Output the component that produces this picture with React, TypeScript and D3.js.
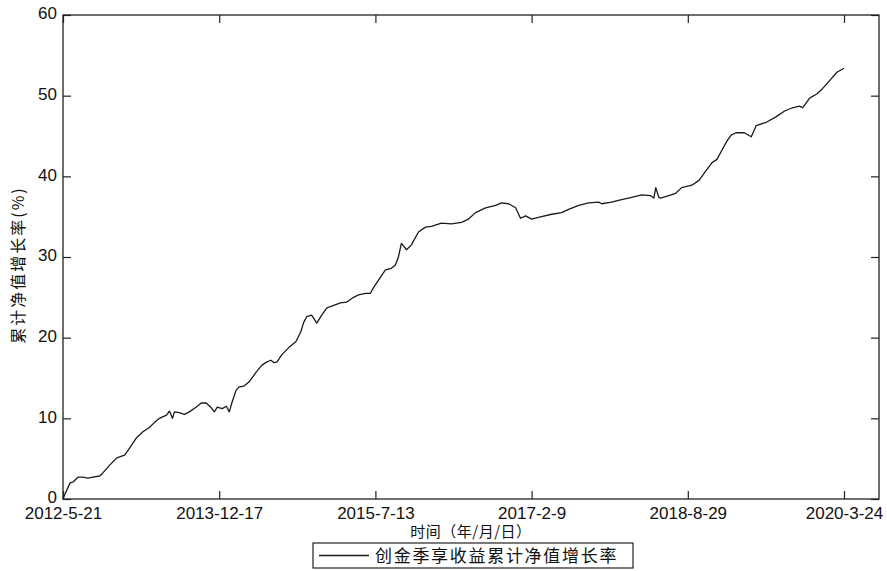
import * as d3 from "d3";
import { useEffect, useRef } from "react";

// даты (x) и значения (y, %) кривой
const dates = [
  "2012-05-21", "2012-05-28", "2012-06-16", "2012-06-27", "2012-07-15", "2012-08-02", "2012-08-21",
  "2012-09-08", "2012-10-03", "2012-10-14", "2012-11-09", "2012-12-05", "2013-01-03", "2013-01-21",
  "2013-02-16", "2013-03-10", "2013-04-05", "2013-04-23", "2013-05-11", "2013-06-06", "2013-06-17",
  "2013-06-28", "2013-07-05", "2013-07-23", "2013-08-11", "2013-08-29", "2013-09-24", "2013-10-12",
  "2013-10-30", "2013-11-18", "2013-11-29", "2013-12-10", "2013-12-28", "2014-01-12", "2014-01-23",
  "2014-02-02", "2014-02-17", "2014-02-28", "2014-03-18", "2014-04-05", "2014-05-01", "2014-05-23",
  "2014-06-10", "2014-06-25", "2014-07-06", "2014-07-17", "2014-08-04", "2014-08-30", "2014-09-24",
  "2014-10-12", "2014-10-23", "2014-11-03", "2014-11-21", "2014-12-10", "2014-12-28", "2015-01-16",
  "2015-02-10", "2015-03-07", "2015-03-29", "2015-04-24", "2015-05-12", "2015-06-07", "2015-06-25",
  "2015-07-06", "2015-07-24", "2015-08-19", "2015-09-10", "2015-09-25", "2015-10-06", "2015-10-17",
  "2015-11-05", "2015-11-23", "2015-12-19", "2016-01-14", "2016-02-05", "2016-03-13", "2016-04-19",
  "2016-05-26", "2016-06-21", "2016-07-17", "2016-08-23", "2016-09-29", "2016-10-21", "2016-11-16",
  "2016-12-12", "2016-12-30", "2017-01-18", "2017-02-09", "2017-03-17", "2017-04-23", "2017-05-29",
  "2017-06-23", "2017-07-30", "2017-09-04", "2017-10-10", "2017-10-21", "2017-11-26", "2018-01-01",
  "2018-02-07", "2018-03-15", "2018-04-17", "2018-04-28", "2018-05-05", "2018-05-16", "2018-05-23",
  "2018-06-21", "2018-07-16", "2018-08-07", "2018-09-13", "2018-10-09", "2018-11-04", "2018-11-26",
  "2018-12-14", "2019-01-02", "2019-01-20", "2019-02-04", "2019-02-22", "2019-03-24", "2019-04-19",
  "2019-05-07", "2019-06-13", "2019-07-20", "2019-08-19", "2019-09-17", "2019-10-13", "2019-10-24",
  "2019-11-19", "2019-12-15", "2020-01-06", "2020-02-01", "2020-02-27", "2020-03-24",
];

const values = [
  0, 0.6, 2.0, 2.1, 2.7, 2.7, 2.6,
  2.7, 2.85, 3.2, 4.2, 5.1, 5.45, 6.3,
  7.6, 8.3, 8.9, 9.5, 10.0, 10.4, 10.9,
  10.0, 10.8, 10.7, 10.5, 10.8, 11.4, 11.9,
  11.9, 11.3, 10.8, 11.4, 11.2, 11.5, 10.8,
  12.0, 13.5, 13.9, 14.0, 14.5, 15.7, 16.6,
  17.0, 17.2, 16.9, 17.0, 17.9, 18.8, 19.5,
  20.7, 21.9, 22.6, 22.8, 21.8, 22.8, 23.7,
  24.0, 24.3, 24.4, 25.0, 25.3, 25.5, 25.5,
  26.2, 27.1, 28.4, 28.6, 29.0, 30.0, 31.7,
  30.9, 31.5, 33.1, 33.7, 33.8, 34.2, 34.1,
  34.3, 34.7, 35.5, 36.1, 36.4, 36.7, 36.6,
  36.1, 34.8, 35.1, 34.7, 35.0, 35.3, 35.5,
  35.9, 36.4, 36.7, 36.8, 36.6, 36.8, 37.1,
  37.4, 37.7, 37.6, 37.3, 38.6, 37.4, 37.3,
  37.6, 37.9, 38.6, 38.9, 39.5, 40.7, 41.7,
  42.1, 43.3, 44.4, 45.1, 45.4, 45.4, 44.9,
  46.3, 46.7, 47.4, 48.1, 48.5, 48.7, 48.5,
  49.7, 50.2, 50.9, 51.9, 52.9, 53.4,
];

// подписи оси x
const xTickDates = ["2012-05-21", "2013-12-17", "2015-07-13", "2017-02-09", "2018-08-29", "2020-03-24"];
const xEndDate = "2020-08-04";
const yTicks = [0, 10, 20, 30, 40, 50, 60];

const seriesName = "创金季享收益累计净值增长率";
const xLabel = "时间（年/月/日）";
const yLabel = "累计净值增长率(%)";

const App = () => {
  const svgRef = useRef<SVGSVGElement>(null);

  const W = 887;
  const H = 571;
  const margin = { top: 15, right: 8, bottom: 72, left: 63 };
  const width = W - margin.left - margin.right;
  const height = H - margin.top - margin.bottom;

  useEffect(() => {
    const parse = d3.timeParse("%Y-%m-%d");
    const data = dates.map((d, i) => ({ date: parse(d) as Date, value: values[i] }));
    const tickDates = xTickDates.map(d => parse(d) as Date);

    const svg = d3.select(svgRef.current);
    svg.selectAll("*").remove();

    const chart = svg.append("g")
      .attr("transform", `translate(${margin.left},${margin.top})`);

    //шкала x: тики стоят через равные промежутки
    const step = 156.2;
    const xScale = d3.scaleTime()
      .domain([...tickDates, parse(xEndDate) as Date])
      .range([...tickDates.map((_, i) => i * step), width]);

    const yScale = d3.scaleLinear()
      .domain([0, 60])
      .range([height, 0]);

    const font = "'Liberation Sans', Arial, sans-serif";
    const cjk = "'Noto Sans CJK SC', sans-serif";
    const fmt = (d: Date) => `${d.getFullYear()}-${d.getMonth() + 1}-${d.getDate()}`;

    //ось x снизу
    const xAxis = chart.append("g")
      .attr("transform", `translate(0,${height})`)
      .call(d3.axisBottom(xScale).tickValues(tickDates).tickFormat(d => fmt(d as Date)).tickSize(-8).tickSizeOuter(0).tickPadding(8));
    xAxis.selectAll("text")
      .style("font-size", "17px")
      .style("font-family", font)
      .style("fill", "#111");

    //ось x сверху (только риски)
    chart.append("g")
      .call(d3.axisTop(xScale).tickValues(tickDates).tickFormat(() => "").tickSize(-8).tickSizeOuter(0));

    //ось y слева
    const yAxis = chart.append("g")
      .call(d3.axisLeft(yScale).tickValues(yTicks).tickSize(-8).tickSizeOuter(0).tickPadding(6));
    yAxis.selectAll("text")
      .attr("dy", "0.22em")
      .style("font-size", "17px")
      .style("font-family", font)
      .style("fill", "#111");

    //ось y справа (только риски)
    chart.append("g")
      .attr("transform", `translate(${width},0)`)
      .call(d3.axisRight(yScale).tickValues(yTicks).tickFormat(() => "").tickSize(-8).tickSizeOuter(0));

    chart.selectAll(".domain").remove();
    chart.selectAll(".tick line").attr("stroke", "#222").attr("stroke-width", 1.2);

    //рамка
    chart.append("rect")
      .attr("width", width)
      .attr("height", height)
      .attr("fill", "none")
      .attr("stroke", "#222")
      .attr("stroke-width", 1.3);

    //линия
    const line = d3.line<{ date: Date; value: number }>()
      .x(d => xScale(d.date))
      .y(d => yScale(d.value));

    chart.append("path")
      .datum(data)
      .attr("d", line)
      .attr("fill", "none")
      .attr("stroke", "#1a1a1a")
      .attr("stroke-width", 1.3)
      .attr("stroke-linejoin", "round");

    //подпись оси x
    chart.append("text")
      .attr("x", width / 2)
      .attr("y", height + 38)
      .attr("text-anchor", "middle")
      .style("font-size", "15px")
      .style("font-family", cjk)
      .style("letter-spacing", "0.5px")
      .style("fill", "#111")
      .text(xLabel);

    //подпись оси y
    svg.append("text")
      .attr("transform", `translate(24,${margin.top + height / 2 + 8}) rotate(-90)`)
      .attr("text-anchor", "middle")
      .style("font-size", "16px")
      .style("font-family", cjk)
      .style("letter-spacing", "2px")
      .style("fill", "#111")
      .text(yLabel);

    //легенда
    const lg = svg.append("g").attr("transform", "translate(313,543)");
    lg.append("rect")
      .attr("width", 320)
      .attr("height", 25)
      .attr("fill", "#fff")
      .attr("stroke", "#222")
      .attr("stroke-width", 1.2);
    lg.append("line")
      .attr("x1", 6).attr("x2", 56)
      .attr("y1", 12.5).attr("y2", 12.5)
      .attr("stroke", "#1a1a1a")
      .attr("stroke-width", 1.3);
    lg.append("text")
      .attr("x", 62)
      .attr("y", 18.5)
      .style("font-size", "17px")
      .style("font-family", cjk)
      .style("letter-spacing", "1.7px")
      .style("fill", "#111")
      .text(seriesName);
  }, []);

  return (
    <svg
      ref={svgRef}
      width={W}
      height={H}
      style={{ position: "absolute", left: 0, top: 0, background: "#fff" }}
    />
  );
};

export default App;
